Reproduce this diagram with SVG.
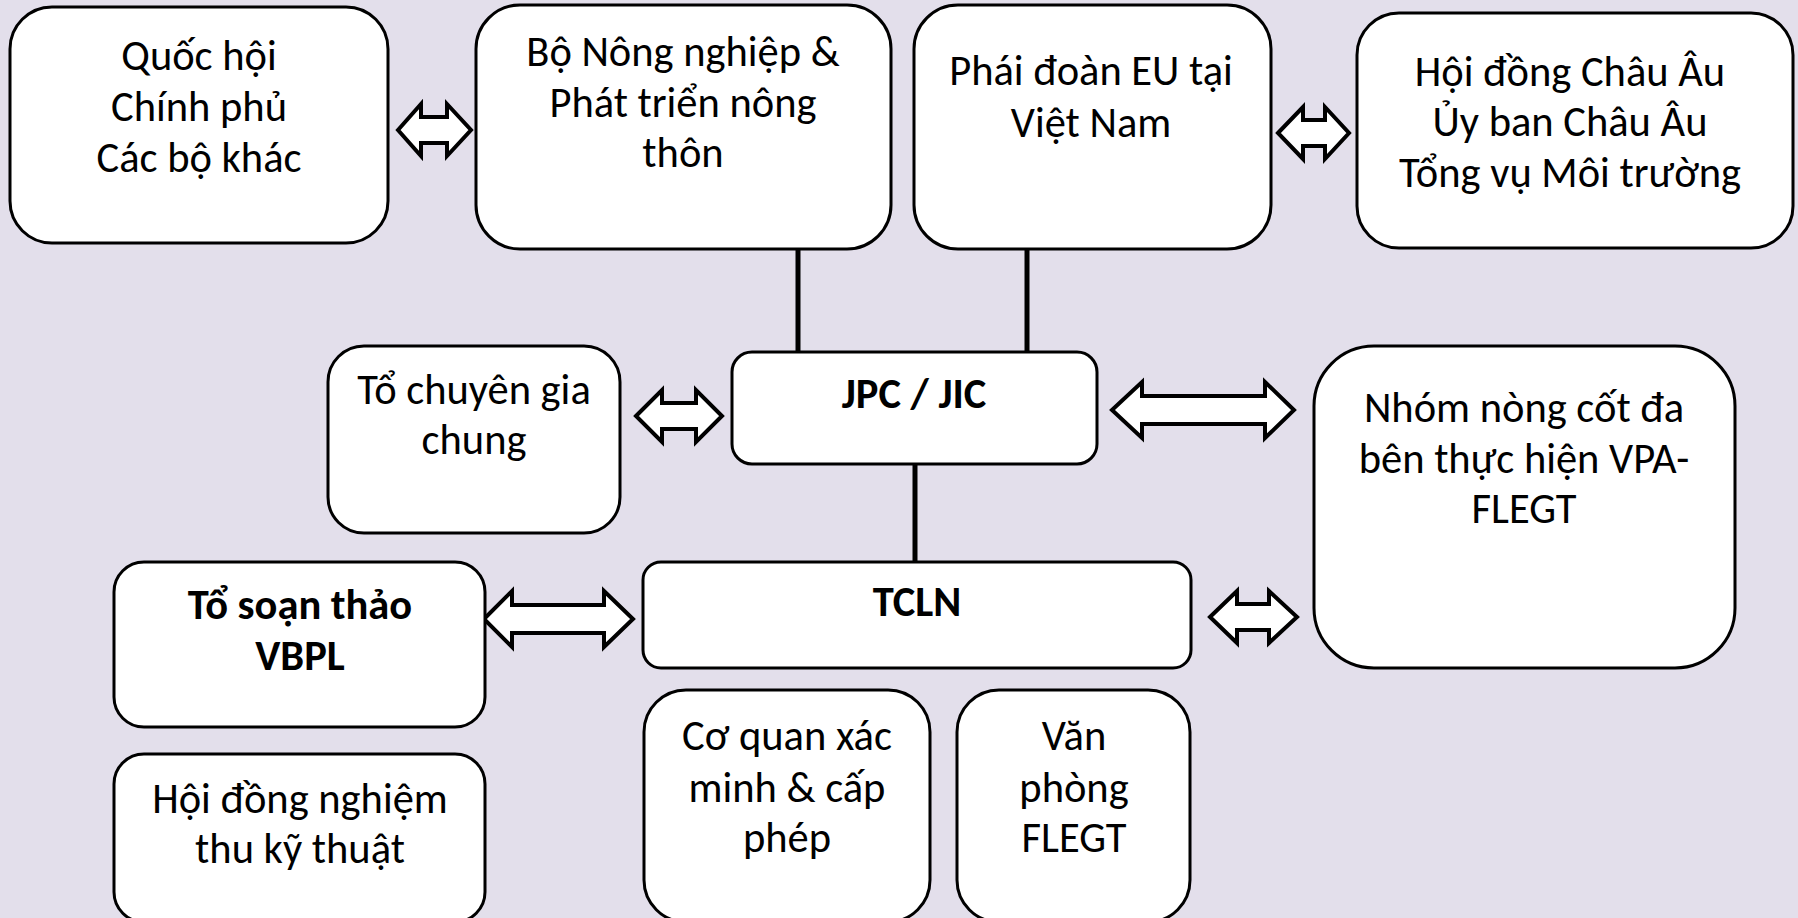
<svg xmlns="http://www.w3.org/2000/svg" width="1798" height="918" viewBox="0 0 1798 918">
<style>
.box{fill:#ffffff;stroke:#000000;stroke-width:3}
.arr{fill:#ffffff;stroke:#000000;stroke-width:4;stroke-linejoin:miter;stroke-miterlimit:10}
.ln{stroke:#000000;stroke-width:5;fill:none}
text{font-family:Carlito,Lato,"Liberation Sans",sans-serif;font-size:42.5px;fill:#000000;text-anchor:middle}
.b{font-weight:bold}
</style>
<rect x="0" y="0" width="1798" height="918" fill="#E3DFEB"/>
<g id="connectors">
<line class="ln" x1="798" y1="249" x2="798" y2="353"/>
<line class="ln" x1="1027" y1="249" x2="1027" y2="353"/>
<line class="ln" x1="915" y1="464" x2="915" y2="561"/>
<path class="arr" d="M398,130 L421,104 L421,117 L447,117 L447,104 L471,130 L447,156 L447,143 L421,143 L421,156 Z"/>
<path class="arr" d="M1278,133 L1303,107 L1303,120 L1325,120 L1325,107 L1349,133 L1325,159 L1325,146 L1303,146 L1303,159 Z"/>
<path class="arr" d="M636,416 L662,390 L662,403 L696,403 L696,390 L722,416 L696,442 L696,429 L662,429 L662,442 Z"/>
<path class="arr" d="M1112,410 L1142,382 L1142,396 L1265,396 L1265,382 L1294,410 L1265,438 L1265,424 L1142,424 L1142,438 Z"/>
<path class="arr" d="M484,619 L512,591 L512,605 L604,605 L604,591 L633,619 L604,647 L604,633 L512,633 L512,647 Z"/>
<path class="arr" d="M1210,617 L1237,591 L1237,604 L1269,604 L1269,591 L1297,617 L1269,643 L1269,630 L1237,630 L1237,643 Z"/>
</g>
<g id="quochoi">
<rect class="box" x="10" y="7" width="378" height="236" rx="42"/>
<text x="199" y="70">Quốc hội</text>
<text x="199" y="121">Chính phủ</text>
<text x="199" y="172">Các bộ khác</text>
</g>
<g id="bonn">
<rect class="box" x="476" y="5" width="415" height="244" rx="44"/>
<text x="683" y="66">Bộ Nông nghiệp &amp;</text>
<text x="683" y="117">Phát triển nông</text>
<text x="683" y="167">thôn</text>
</g>
<g id="phaidoan">
<rect class="box" x="914" y="5" width="357" height="244" rx="44"/>
<text x="1091" y="85">Phái đoàn EU tại</text>
<text x="1091" y="137">Việt Nam</text>
</g>
<g id="hoidongchauau">
<rect class="box" x="1357" y="13" width="436" height="235" rx="42"/>
<text x="1570" y="86">Hội đồng Châu Âu</text>
<text x="1570" y="136">Ủy ban Châu Âu</text>
<text x="1570" y="187">Tổng vụ Môi trường</text>
</g>
<g id="tochuyengia">
<rect class="box" x="328" y="346" width="292" height="187" rx="36"/>
<text x="474" y="404">Tổ chuyên gia</text>
<text x="474" y="454">chung</text>
</g>
<g id="jpc">
<rect class="box" x="732" y="352" width="365" height="112" rx="20"/>
<text class="b" x="914" y="408">JPC / JIC</text>
</g>
<g id="nhom">
<rect class="box" x="1314" y="346" width="421" height="322" rx="60"/>
<text x="1524" y="422">Nhóm nòng cốt đa</text>
<text x="1524" y="473">bên thực hiện VPA-</text>
<text x="1524" y="523">FLEGT</text>
</g>
<g id="tosoanthao">
<rect class="box" x="114" y="562" width="371" height="165" rx="30"/>
<text class="b" x="300" y="619">Tổ soạn thảo</text>
<text class="b" x="300" y="670">VBPL</text>
</g>
<g id="tcln">
<rect class="box" x="643" y="562" width="548" height="106" rx="18"/>
<text class="b" x="917" y="616">TCLN</text>
</g>
<g id="hoidongnghiemthu">
<rect class="box" x="114" y="754" width="371" height="168" rx="30"/>
<text x="300" y="813">Hội đồng nghiệm</text>
<text x="300" y="863">thu kỹ thuật</text>
</g>
<g id="coquan">
<rect class="box" x="644" y="690" width="286" height="232" rx="42"/>
<text x="787" y="750">Cơ quan xác</text>
<text x="787" y="802">minh &amp; cấp</text>
<text x="787" y="852">phép</text>
</g>
<g id="vanphong">
<rect class="box" x="957" y="690" width="233" height="232" rx="42"/>
<text x="1074" y="750">Văn</text>
<text x="1074" y="802">phòng</text>
<text x="1074" y="852">FLEGT</text>
</g>
</svg>
